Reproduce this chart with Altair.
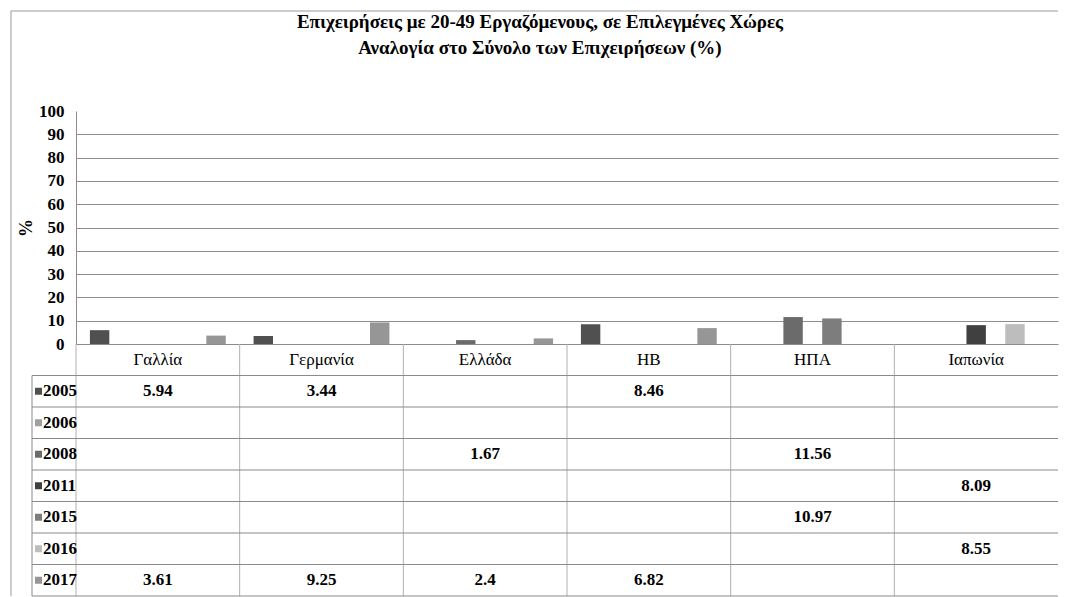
import altair as alt
import pandas as pd

countries = ["Γαλλία", "Γερμανία", "Ελλάδα", "ΗΒ", "ΗΠΑ", "Ιαπωνία"]
years = ["2005", "2006", "2008", "2011", "2015", "2016", "2017"]
colors = ["#505050", "#a0a0a0", "#6b6b6b", "#404040", "#7d7d7d", "#bdbdbd", "#969696"]

values_2005 = [5.94, 3.44, None, 8.46, None, None]
values_2006 = [None, None, None, None, None, None]
values_2008 = [None, None, 1.67, None, 11.56, None]
values_2011 = [None, None, None, None, None, 8.09]
values_2015 = [None, None, None, None, 10.97, None]
values_2016 = [None, None, None, None, None, 8.55]
values_2017 = [3.61, 9.25, 2.4, 6.82, None, None]

y_ticks = [0, 10, 20, 30, 40, 50, 60, 70, 80, 90, 100]
title_lines = [
    "Επιχειρήσεις με 20-49 Εργαζόμενους, σε Επιλεγμένες Χώρες",
    "Αναλογία στο Σύνολο των Επιχειρήσεων (%)",
]
y_title = "%"

series = {
    "2005": values_2005, "2006": values_2006, "2008": values_2008,
    "2011": values_2011, "2015": values_2015, "2016": values_2016,
    "2017": values_2017,
}
records = []
for yr in years:
    for c, v in zip(countries, series[yr]):
        if v is not None:
            records.append({"country": c, "year": yr, "row": yr, "value": v, "label": str(v)})
df = pd.DataFrame(records)

rows = ["header"] + years
header_df = pd.DataFrame({"country": countries, "row": ["header"] * len(countries)})
years_df = pd.DataFrame({"year": years, "row": years})
one = pd.DataFrame({"k": [0]})

FONT = "Liberation Serif, Times New Roman, DejaVu Serif, serif"
W = 982
H = 233
RH = 31.5
TH = RH * len(rows)
FRAME = "#9a9a9a"
GRID = "#8c8c8c"

color_scale = alt.Scale(domain=years, range=colors)

# ---------- top: bar chart ----------
xs_top = alt.Scale(domain=countries, paddingInner=0.17, paddingOuter=0.085)
bars = alt.Chart(df).mark_bar().encode(
    x=alt.X("country:N", scale=xs_top, axis=None, sort=countries),
    xOffset=alt.XOffset("year:N", scale=alt.Scale(domain=years, paddingInner=0, paddingOuter=0)),
    y=alt.Y(
        "value:Q",
        scale=alt.Scale(domain=[0, 100], nice=False),
        axis=alt.Axis(
            values=y_ticks, title=y_title, titleFont=FONT, titleFontSize=18,
            titleFontWeight="bold", titleColor="#000", titlePadding=3,
            labelFont=FONT, labelFontSize=17, labelFontWeight="bold",
            labelColor="#000", labelPadding=12, ticks=False,
            domainColor=GRID, gridColor=GRID,
            gridOpacity={"condition": {"test": "datum.value === 100", "value": 0}, "value": 1},
        ),
    ),
    color=alt.Color("year:N", scale=color_scale, legend=None),
)

t1 = alt.Chart(pd.DataFrame({"t": [title_lines[0]]})).mark_text(
    font=FONT, fontSize=19, fontWeight="bold", align="center", baseline="middle", color="#000"
).encode(x=alt.value(464), y=alt.value(-89), text="t:N")
t2 = alt.Chart(pd.DataFrame({"t": [title_lines[1]]})).mark_text(
    font=FONT, fontSize=19, fontWeight="bold", align="center", baseline="middle", color="#000"
).encode(x=alt.value(464), y=alt.value(-63), text="t:N")

frame_v_top = alt.Chart(one).mark_rule(color=FRAME, strokeWidth=1).encode(
    x=alt.value(-65), y=alt.value(-100), y2=alt.value(H))
frame_h_top = alt.Chart(one).mark_rule(color=FRAME, strokeWidth=1).encode(
    x=alt.value(-65), x2=alt.value(W), y=alt.value(-100))

top = alt.layer(frame_v_top, frame_h_top, t1, t2, bars).properties(width=W, height=H)

# ---------- bottom: data table ----------
xs_tab = alt.Scale(domain=countries, paddingInner=0, paddingOuter=0)
ys_tab = alt.Scale(domain=rows, paddingInner=0, paddingOuter=0)

col_rules = alt.Chart(header_df).mark_rule(color="#b0b0b0", strokeWidth=1).encode(
    x=alt.X("country:N", scale=xs_tab, axis=None, bandPosition=0),
    y=alt.value(0), y2=alt.value(TH))
row_rules = alt.Chart(years_df).mark_rule(color="#8a8a8a", strokeWidth=1).encode(
    y=alt.Y("row:N", scale=ys_tab, axis=None, bandPosition=0),
    x=alt.value(-44), x2=alt.value(W))
bottom_rule = alt.Chart(one).mark_rule(color="#8a8a8a", strokeWidth=1).encode(
    y=alt.value(TH), x=alt.value(-44), x2=alt.value(W))
left_rule = alt.Chart(one).mark_rule(color="#8a8a8a", strokeWidth=1).encode(
    x=alt.value(-44), y=alt.value(RH), y2=alt.value(TH))
frame_v_bot = alt.Chart(one).mark_rule(color=FRAME, strokeWidth=1).encode(
    x=alt.value(-65), y=alt.value(0), y2=alt.value(TH))

header_text = alt.Chart(header_df).mark_text(
    font=FONT, fontSize=17, align="center", baseline="middle", color="#000"
).encode(
    x=alt.X("country:N", scale=xs_tab, axis=None),
    y=alt.Y("row:N", scale=ys_tab, axis=None),
    text="country:N")

value_text = alt.Chart(df).mark_text(
    font=FONT, fontSize=17, fontWeight="bold", align="center", baseline="middle", color="#000"
).encode(
    x=alt.X("country:N", scale=xs_tab, axis=None),
    y=alt.Y("row:N", scale=ys_tab, axis=None),
    text="label:N")

row_labels = alt.Chart(years_df).mark_text(
    font=FONT, fontSize=17, fontWeight="bold", align="left", baseline="middle", color="#000"
).encode(
    x=alt.value(-33),
    y=alt.Y("row:N", scale=ys_tab, axis=None),
    text="year:N")

swatches = alt.Chart(years_df).mark_square(size=49, opacity=1).encode(
    x=alt.value(-37.5),
    y=alt.Y("row:N", scale=ys_tab, axis=None),
    color=alt.Color("year:N", scale=color_scale, legend=None))

bottom = alt.layer(
    col_rules, row_rules, bottom_rule, left_rule, frame_v_bot,
    header_text, value_text, row_labels, swatches
).properties(width=W, height=TH)

chart = alt.vconcat(top, bottom, spacing=0, bounds="flush").properties(
    padding={"left": 2, "top": 2, "right": 0, "bottom": 0},
    background="white",
).configure_view(stroke=None)

chart.save("out.html", embed_options={"renderer": "svg", "actions": False})
